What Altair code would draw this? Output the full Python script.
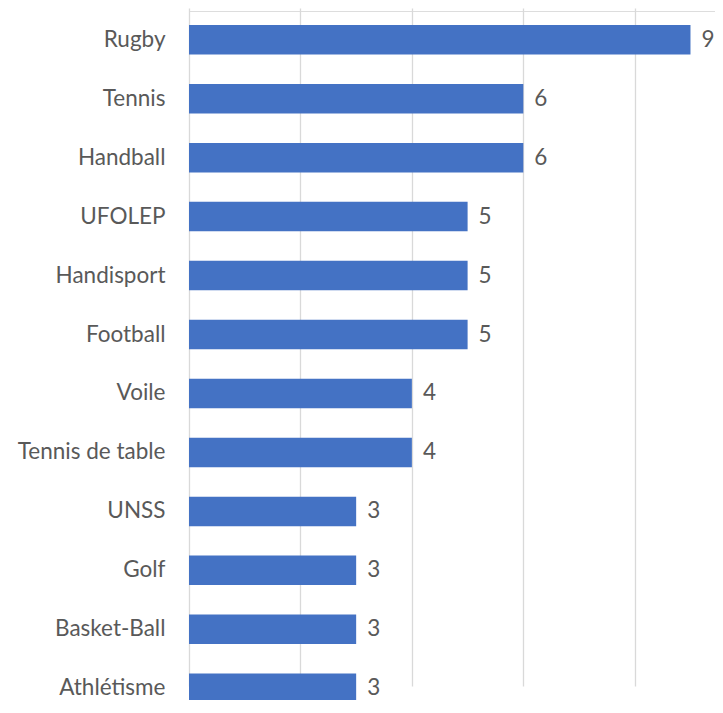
import altair as alt
import pandas as pd

sports = ["Rugby", "Tennis", "Handball", "UFOLEP", "Handisport", "Football",
          "Voile", "Tennis de table", "UNSS", "Golf", "Basket-Ball", "Athlétisme"]
counts = [9, 6, 6, 5, 5, 5, 4, 4, 3, 3, 3, 3]

df = pd.DataFrame({"sport": sports, "count": counts})

FONT = "Lato"
FS = 22.5
TXT = "#595959"

y_enc = alt.Y("sport:N", sort=sports, title=None,
              scale=alt.Scale(range=[14, 692], paddingInner=0.5, paddingOuter=0),
              axis=alt.Axis(ticks=False, domain=False, labelPadding=24,
                            labelFont=FONT, labelFontSize=FS, labelColor=TXT,
                            labelLimit=300))
x_enc = alt.X("count:Q", title=None,
              scale=alt.Scale(domain=[0, 9.44], nice=False, zero=True),
              axis=alt.Axis(values=[0, 2, 4, 6, 8], labels=False, ticks=False,
                            domain=False, grid=True, gridColor="#D9D9D9",
                            gridWidth=1.3))

bars = alt.Chart(df).mark_bar(color="#4472C4").encode(x=x_enc, y=y_enc)
labels = alt.Chart(df).mark_text(align="left", baseline="middle", dx=11,
                                 font=FONT, fontSize=FS, color=TXT).encode(
    x=alt.X("count:Q"), y=alt.Y("sport:N", sort=sports), text="count:Q")

chart = (bars + labels).properties(
    width=526, height=689,
    autosize=alt.AutoSizeParams(type="none"),
    padding={"left": 181, "top": 3, "right": 0, "bottom": 0},
).configure_view(strokeWidth=0).configure(background="white")

chart.save("out.html", embed_options={"renderer": "svg", "actions": False})
